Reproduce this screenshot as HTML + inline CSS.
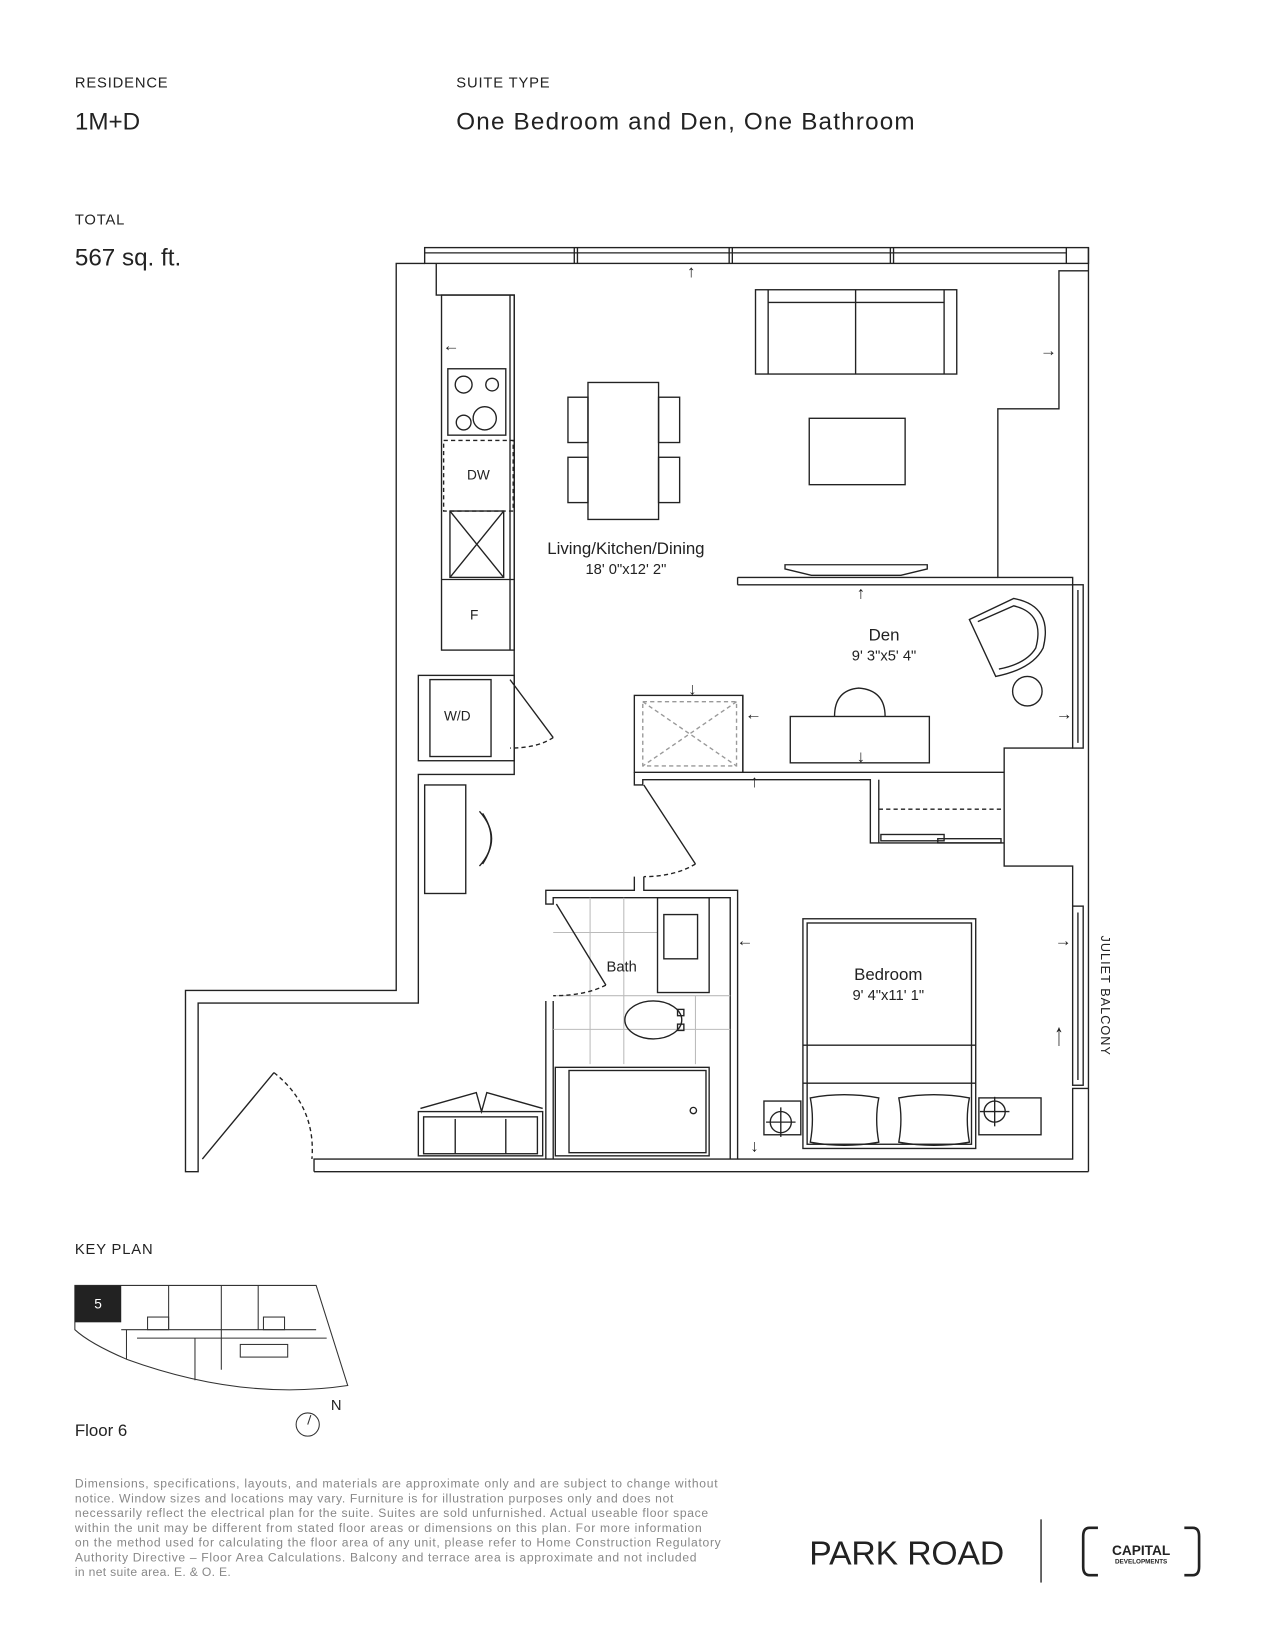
<!DOCTYPE html>
<html><head><meta charset="utf-8"><style>
html,body{margin:0;padding:0;background:#fff}
svg{display:block}
text{font-family:"Liberation Sans",sans-serif;fill:#222}
</style></head><body>
<svg width="1275" height="1650" viewBox="0 0 1210 1566" xmlns="http://www.w3.org/2000/svg">
<g>
<text x="71" y="83" font-size="14" letter-spacing="0.8">RESIDENCE</text>
<text x="71" y="123" font-size="23">1M+D</text>
<text x="433" y="83" font-size="14" letter-spacing="0.8">SUITE TYPE</text>
<text x="433" y="123" font-size="23" textLength="435">One Bedroom and Den, One Bathroom</text>
<text x="71" y="213" font-size="14" letter-spacing="0.8">TOTAL</text>
<text x="71" y="252" font-size="23">567 sq. ft.</text>
</g>

<g fill="none" stroke="#222" stroke-width="1.3">
<rect x="403" y="235" width="630" height="15"/>
<line x1="403" y1="240" x2="1012" y2="240"/>
<line x1="545" y1="235" x2="545" y2="250"/><line x1="548" y1="235" x2="548" y2="250"/>
<line x1="692" y1="235" x2="692" y2="250"/><line x1="695" y1="235" x2="695" y2="250"/>
<line x1="845" y1="235" x2="845" y2="250"/><line x1="848" y1="235" x2="848" y2="250"/>
<line x1="1012" y1="235" x2="1012" y2="250"/>
<polyline points="403,250 376,250 376,940 176,940 176,1112 188,1112 188,952 397,952 397,735 488,735 488,617"/>
<polyline points="414,250 414,280 488,280 488,617"/>
<polyline points="298,1112 298,1100 1018,1100 1018,1033 1033,1033"/>
<line x1="298" y1="1112" x2="1033" y2="1112"/>
<line x1="1033" y1="235" x2="1033" y2="1112"/>
<polyline points="1033,257 1005,257 1005,388 947,388 947,548 1018,548 1018,555"/>
<polyline points="700,548 947,548"/><polyline points="700,555 1018,555"/>
<line x1="700" y1="548" x2="700" y2="555"/>
<rect x="1018" y="555" width="10" height="155"/>
<line x1="1023" y1="560" x2="1023" y2="705"/>
<polyline points="1018,710 953,710 953,822 1018,822 1018,860"/>
<rect x="1018" y="860" width="10" height="170"/>
<line x1="1023" y1="866" x2="1023" y2="1025"/>
<polyline points="192,1100 260,1018"/>
<path d="M260,1018 Q300,1050 296,1100" stroke-dasharray="4,3"/>
<rect x="419" y="280" width="69" height="337"/>
<line x1="484" y1="280" x2="484" y2="617"/>
<rect x="425" y="350" width="55" height="63"/>
<circle cx="440" cy="365" r="8"/><circle cx="467" cy="365" r="6"/><circle cx="440" cy="401" r="7"/><circle cx="460" cy="397" r="11"/>
<rect x="421" y="418" width="66" height="67" stroke-dasharray="4,3"/>
<rect x="427" y="485" width="51" height="63"/>
<line x1="427" y1="485" x2="478" y2="548"/><line x1="478" y1="485" x2="427" y2="548"/>
<line x1="419" y1="550" x2="488" y2="550"/>
<rect x="397" y="641" width="91" height="81"/>
<rect x="408" y="645" width="58" height="73"/>
<line x1="484" y1="645" x2="525" y2="700"/>
<path d="M525,700 Q510,710 484,710" stroke-dasharray="4,3"/>
<rect x="403" y="745" width="39" height="103"/>
<path d="M455,770 Q478,796 455,822"/><path d="M458,772 Q474,796 458,820"/>
<rect x="558" y="363" width="67" height="130"/>
<rect x="539" y="377" width="19" height="43"/><rect x="539" y="434" width="19" height="43"/>
<rect x="625" y="377" width="20" height="43"/><rect x="625" y="434" width="20" height="43"/>
<rect x="717" y="275" width="191" height="80"/>
<line x1="812" y1="275" x2="812" y2="355"/>
<line x1="729" y1="275" x2="729" y2="355"/><line x1="896" y1="275" x2="896" y2="355"/>
<line x1="729" y1="287" x2="896" y2="287"/>
<rect x="768" y="397" width="91" height="63"/>
<path d="M745,536 L880,536 L880,540 L855,546 L770,546 L745,540 Z"/>
<path d="M920,588 L962,568 Q1000,575 990,615 Q980,635 945,642 Z"/>
<path d="M928,590 L962,575 Q992,582 983,615 Q974,630 948,635"/>
<circle cx="975" cy="656" r="14"/>
<rect x="750" y="680" width="132" height="44"/>
<path d="M792,680 Q792,655 815,653 Q840,655 840,680"/>
<rect x="602" y="660" width="103" height="73"/>
<rect x="610" y="666" width="89" height="61" stroke="#999" stroke-dasharray="4,3"/>
<line x1="610" y1="666" x2="699" y2="727" stroke="#999" stroke-dasharray="4,3"/>
<line x1="699" y1="666" x2="610" y2="727" stroke="#999" stroke-dasharray="4,3"/>
<polyline points="602,733 602,745 610,745 610,740 826,740 826,800 953,800"/>
<polyline points="705,660 705,733 953,733"/>
<line x1="834" y1="740" x2="834" y2="800"/>
<line x1="834" y1="768" x2="953" y2="768" stroke-dasharray="4,3"/>
<rect x="836" y="792" width="60" height="6"/><rect x="890" y="796" width="60" height="4"/>
<line x1="611" y1="745" x2="660" y2="820"/>
<path d="M660,820 Q640,832 611,832" stroke-dasharray="4,3"/>
<polyline points="602,832 602,845 518,845 518,858 525,858 525,852 693,852 693,1100"/>
<polyline points="611,832 611,845 700,845 700,1100"/>
<polyline points="518,950 518,1100"/><polyline points="525,950 525,1100"/>
<g stroke="#bbb" stroke-width="1">
<line x1="560" y1="852" x2="560" y2="1010"/><line x1="592" y1="852" x2="592" y2="1010"/>
<line x1="525" y1="885" x2="624" y2="885"/><line x1="525" y1="945" x2="693" y2="945"/><line x1="525" y1="977" x2="693" y2="977"/>
<line x1="660" y1="945" x2="660" y2="1010"/>
</g>
<line x1="528" y1="858" x2="575" y2="935"/>
<path d="M575,935 Q555,945 525,945" stroke-dasharray="4,3"/>
<rect x="624" y="852" width="49" height="90"/>
<rect x="630" y="868" width="32" height="42"/>
<ellipse cx="620" cy="968" rx="27" ry="18"/>
<rect x="643" y="958" width="6" height="6"/><rect x="643" y="972" width="6" height="6"/>
<rect x="527" y="1013" width="146" height="84"/>
<rect x="540" y="1016" width="130" height="78"/>
<circle cx="658" cy="1054" r="3"/>
<rect x="397" y="1055" width="118" height="42"/>
<rect x="402" y="1060" width="108" height="35"/>
<line x1="432" y1="1062" x2="432" y2="1095"/><line x1="480" y1="1062" x2="480" y2="1095"/>
<polyline points="399,1052 452,1037 457,1055 462,1037 515,1052"/>
<rect x="762" y="872" width="164" height="218"/>
<rect x="766" y="876" width="156" height="210"/>
<line x1="762" y1="992" x2="926" y2="992"/>
<line x1="762" y1="1028" x2="926" y2="1028"/>
<path d="M769,1042 Q801,1036 834,1042 Q830,1062 834,1084 Q801,1090 769,1084 Q773,1062 769,1042 Z"/>
<path d="M853,1042 Q886,1036 920,1042 Q916,1062 920,1084 Q886,1090 853,1084 Q857,1062 853,1042 Z"/>
<rect x="725" y="1045" width="35" height="32"/>
<circle cx="741" cy="1065" r="10"/><line x1="727" y1="1065" x2="755" y2="1065"/><line x1="741" y1="1051" x2="741" y2="1079"/>
<rect x="929" y="1042" width="59" height="35"/>
<circle cx="944" cy="1055" r="10"/><line x1="930" y1="1055" x2="958" y2="1055"/><line x1="944" y1="1041" x2="944" y2="1069"/>
</g>
<g font-size="16" text-anchor="middle">
<text x="656" y="263">↑</text><text x="995" y="338">→</text><text x="428" y="333">←</text>
<text x="817" y="568">↑</text><text x="715" y="683">←</text><text x="657" y="659">↓</text>
<text x="817" y="723">↓</text><text x="716" y="747">↑</text><text x="1010" y="683">→</text>
<text x="707" y="898">←</text><text x="1009" y="898">→</text><text x="716" y="1093">↓</text>
<text x="1005" y="992" font-size="30" transform="scale(0.6,1) translate(670,0)">↑</text>
</g>
<g text-anchor="middle">
<text x="594" y="526" font-size="16">Living/Kitchen/Dining</text>
<text x="594" y="545" font-size="14">18' 0"x12' 2"</text>
<text x="839" y="608" font-size="16">Den</text>
<text x="839" y="627" font-size="14">9' 3"x5' 4"</text>
<text x="843" y="930" font-size="16">Bedroom</text>
<text x="843" y="949" font-size="14">9' 4"x11' 1"</text>
<text x="590" y="922" font-size="14">Bath</text>
<text x="454" y="455" font-size="13" fill="#555">DW</text>
<text x="450" y="588" font-size="13" fill="#555">F</text>
<text x="434" y="684" font-size="13" fill="#555">W/D</text>
<text x="0" y="0" font-size="12" fill="#666" letter-spacing="1" transform="translate(1045,945) rotate(90)">JULIET BALCONY</text>
</g>
<text x="71" y="1190" font-size="14" letter-spacing="0.8">KEY PLAN</text>
<g fill="none" stroke="#333" stroke-width="1">
<path d="M71,1220 L300,1220 L330,1315 Q230,1330 120,1290 Q85,1275 71,1262 Z"/>
<line x1="115" y1="1262" x2="300" y2="1262"/><line x1="130" y1="1270" x2="310" y2="1270"/>
<line x1="160" y1="1220" x2="160" y2="1262"/><line x1="210" y1="1220" x2="210" y2="1300"/>
<line x1="245" y1="1220" x2="245" y2="1262"/><line x1="185" y1="1270" x2="185" y2="1310"/>
<rect x="140" y="1250" width="20" height="12"/><rect x="250" y="1250" width="20" height="12"/>
<rect x="228" y="1276" width="45" height="12"/>
<path d="M120,1262 L120,1290"/>
<circle cx="292" cy="1352" r="11"/><line x1="292" y1="1352" x2="295" y2="1343"/>
</g>
<rect x="71" y="1220" width="44" height="35" fill="#222"/>
<text x="93" y="1242" font-size="13" style="fill:#fff" text-anchor="middle">5</text>
<text x="314" y="1338" font-size="14">N</text>
<text x="71" y="1363" font-size="16">Floor 6</text>
<g font-size="11.5">
<text x="71" y="1412" textLength="610" style="fill:#888">Dimensions, specifications, layouts, and materials are approximate only and are subject to change without</text>
<text x="71" y="1426" textLength="568" style="fill:#888">notice. Window sizes and locations may vary. Furniture is for illustration purposes only and does not</text>
<text x="71" y="1440" textLength="601" style="fill:#888">necessarily reflect the electrical plan for the suite. Suites are sold unfurnished. Actual useable floor space</text>
<text x="71" y="1454" textLength="595" style="fill:#888">within the unit may be different from stated floor areas or dimensions on this plan. For more information</text>
<text x="71" y="1468" textLength="613" style="fill:#888">on the method used for calculating the floor area of any unit, please refer to Home Construction Regulatory</text>
<text x="71" y="1482" textLength="590" style="fill:#888">Authority Directive – Floor Area Calculations. Balcony and terrace area is approximate and not included</text>
<text x="71" y="1496" textLength="148" style="fill:#888">in net suite area. E. &amp; O. E.</text>
</g>
<text x="768" y="1485" font-size="32" textLength="185">PARK ROAD</text>
<line x1="988" y1="1442" x2="988" y2="1502" stroke="#222" stroke-width="1.3"/>
<g fill="none" stroke="#222" stroke-width="2.5">
<path d="M1042,1450 L1034,1450 Q1028,1450 1028,1458 L1028,1487 Q1028,1495 1034,1495 L1042,1495"/>
<path d="M1124,1450 L1132,1450 Q1138,1450 1138,1458 L1138,1487 Q1138,1495 1132,1495 L1124,1495"/>
</g>
<text x="1083" y="1476" font-size="13" font-weight="bold" text-anchor="middle">CAPITAL</text>
<text x="1083" y="1484" font-size="6" font-weight="bold" text-anchor="middle">DEVELOPMENTS</text>
</svg>
</body></html>
